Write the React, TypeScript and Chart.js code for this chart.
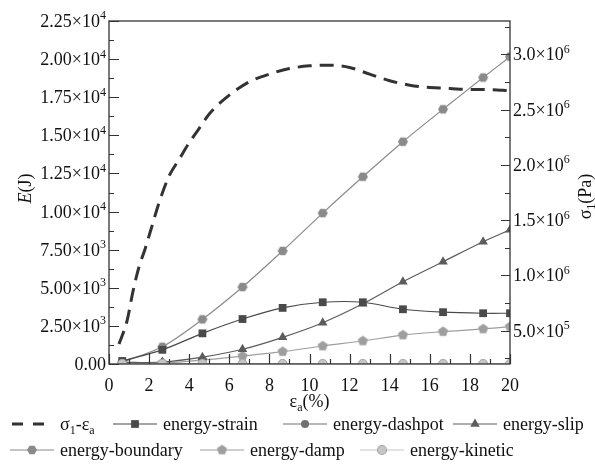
import React, { useEffect, useRef } from 'react';
import { Chart, registerables } from 'chart.js';
import { drawPoint } from 'chart.js/helpers';

Chart.register(...registerables);

// ---------------- data ----------------
const energyStrainPct = [0.66, 2.66, 4.66, 6.66, 8.66, 10.66, 12.66, 14.66, 16.66, 18.66, 20];
const energyStrain = [200, 930, 2010, 2950, 3680, 4050, 4050, 3590, 3400, 3330, 3330];
const energyDashpot = [0, 0, 0, 0, 0, 0, 0, 0, 0, 0, 0];
const energySlip = [100, 130, 450, 965, 1750, 2710, 3950, 5400, 6710, 8020, 8800];
const energyBoundary = [120, 1130, 2930, 5050, 7420, 9900, 12280, 14580, 16710, 18790, 20160];
const energyDamp = [40, 70, 260, 520, 810, 1180, 1510, 1900, 2120, 2300, 2450];
const energyKinetic = [10, 10, 10, 10, 10, 10, 10, 10, 10, 10, 10];

const stressPct = [0.5, 0.9, 1.2, 1.5, 1.8, 2.1, 2.5, 3, 3.5, 4, 4.5, 5, 6, 7, 8, 9, 10, 11, 12, 13, 14, 15, 16, 17, 18, 19, 20];
const stressPa = [380000, 590000, 860000, 1080000, 1240000, 1420000, 1660000, 1900000, 2050000, 2200000, 2330000, 2460000, 2630000, 2750000, 2820000, 2870000, 2895000, 2900000, 2880000, 2820000, 2760000, 2720000, 2700000, 2690000, 2680000, 2680000, 2670000];

const seriesLabels = ['σ_1-ε_a', 'energy-strain', 'energy-dashpot', 'energy-slip', 'energy-boundary', 'energy-damp', 'energy-kinetic'];

const xTickValues = [0, 2, 4, 6, 8, 10, 12, 14, 16, 18, 20];
const xTickLabels = ['0', '2', '4', '6', '8', '10', '12', '14', '16', '18', '20'];
const leftTickValues = [0, 2500, 5000, 7500, 10000, 12500, 15000, 17500, 20000, 22500];
const leftTickLabels = ['0.00', '2.50×10^3', '5.00×10^3', '7.50×10^3', '1.00×10^4', '1.25×10^4', '1.50×10^4', '1.75×10^4', '2.00×10^4', '2.25×10^4'];
const rightTickValues = [500000, 1000000, 1500000, 2000000, 2500000, 3000000];
const rightTickLabels = ['5.0×10^5', '1.0×10^6', '1.5×10^6', '2.0×10^6', '2.5×10^6', '3.0×10^6'];

const xTitle = 'ε_a(%)';
const leftTitle = '~E~(J)';
const rightTitle = 'σ_1(Pa)';

// ---------------- style ----------------
const FAMILY = '"Liberation Serif", "Times New Roman", serif';
const FS = 18;
const AXIS = '#333';

type Seg = { t: string; k: 'n' | 'sup' | 'sub'; it: boolean };
function parseRich(s: string): Seg[] {
  const out: Seg[] = [];
  let it = false;
  let buf = '';
  const flush = () => { if (buf) { out.push({ t: buf, k: 'n', it }); buf = ''; } };
  for (let i = 0; i < s.length; i++) {
    const c = s[i];
    if ((c === '^' || c === '_') && i + 1 < s.length) {
      flush();
      out.push({ t: s[i + 1], k: c === '^' ? 'sup' : 'sub', it });
      i++;
    } else if (c === '~') { flush(); it = !it; }
    else buf += c;
  }
  flush();
  return out;
}
function segFont(seg: Seg, size: number) {
  const sz = seg.k === 'n' ? size : Math.round(size * 0.66);
  return `${seg.it ? 'italic ' : ''}${sz}px ${FAMILY}`;
}
function richWidth(ctx: CanvasRenderingContext2D, segs: Seg[], size: number) {
  let w = 0;
  for (const s of segs) { ctx.font = segFont(s, size); w += ctx.measureText(s.t).width; }
  return w;
}
function drawRich(ctx: CanvasRenderingContext2D, str: string, x: number, y: number, size: number, align: 'left' | 'right' | 'center') {
  const segs = parseRich(str);
  const w = richWidth(ctx, segs, size);
  let cx = align === 'left' ? x : align === 'right' ? x - w : x - w / 2;
  ctx.textAlign = 'left';
  ctx.textBaseline = 'alphabetic';
  for (const s of segs) {
    ctx.font = segFont(s, size);
    const dy = s.k === 'sup' ? -size * 0.42 : s.k === 'sub' ? size * 0.22 : 0;
    ctx.fillText(s.t, cx, y + dy);
    cx += ctx.measureText(s.t).width;
  }
  return w;
}

function polygonMarker(sides: number, r: number, fill: string, rot: number) {
  const size = Math.ceil(2 * r + 2);
  const c = document.createElement('canvas');
  c.width = size; c.height = size;
  const g = c.getContext('2d')!;
  g.beginPath();
  for (let k = 0; k < sides; k++) {
    const a = rot + (k * 2 * Math.PI) / sides;
    const px = size / 2 + r * Math.cos(a);
    const py = size / 2 + r * Math.sin(a);
    if (k === 0) g.moveTo(px, py); else g.lineTo(px, py);
  }
  g.closePath();
  g.fillStyle = fill;
  g.fill();
  return c;
}

const legendSlots = [
  { row: 0, x: 10 }, { row: 0, x: 113 }, { row: 0, x: 283 }, { row: 0, x: 453 },
  { row: 1, x: 10 }, { row: 1, x: 200 }, { row: 1, x: 360 },
];
const legendRowY = [424, 450];
const SAMPLE_W = 44;

const decor = {
  id: 'decor',
  afterDraw(chart: any) {
    const { ctx, chartArea: a, scales } = chart;
    const sx = scales.x, sy = scales.y, sy2 = scales.y2;
    ctx.save();
    // frame
    ctx.strokeStyle = AXIS;
    ctx.lineWidth = 1.3;
    ctx.strokeRect(a.left, a.top, a.right - a.left, a.bottom - a.top);
    ctx.lineWidth = 1.2;
    ctx.beginPath();
    // x ticks (inside)
    for (let v = 0; v <= 20; v += 1) {
      const px = Math.round(sx.getPixelForValue(v)) + 0.5;
      const len = v % 2 === 0 ? 10 : 5;
      ctx.moveTo(px, a.bottom); ctx.lineTo(px, a.bottom - len);
    }
    // left ticks
    for (let v = 0; v <= 22500; v += 1250) {
      const py = Math.round(sy.getPixelForValue(v)) + 0.5;
      const len = v % 2500 === 0 ? 10 : 5;
      ctx.moveTo(a.left, py); ctx.lineTo(a.left + len, py);
    }
    // right ticks
    for (let v = 250000; v <= 3250000; v += 250000) {
      const py = Math.round(sy2.getPixelForValue(v)) + 0.5;
      const len = v % 500000 === 0 ? 9 : 5;
      ctx.moveTo(a.right, py); ctx.lineTo(a.right - len, py);
    }
    ctx.stroke();

    ctx.fillStyle = '#111';
    xTickValues.forEach((v, i) => {
      drawRich(ctx, xTickLabels[i], sx.getPixelForValue(v), 391, FS, 'center');
    });
    leftTickValues.forEach((v, i) => {
      drawRich(ctx, leftTickLabels[i], a.left - 3, sy.getPixelForValue(v) + 6, FS, 'right');
    });
    rightTickValues.forEach((v, i) => {
      drawRich(ctx, rightTickLabels[i], a.right + 3, sy2.getPixelForValue(v) + 6, FS, 'left');
    });

    // axis titles
    drawRich(ctx, xTitle, (a.left + a.right) / 2, 407, FS, 'center');
    ctx.save();
    ctx.translate(25, (a.top + a.bottom) / 2 - 4);
    ctx.rotate(-Math.PI / 2);
    drawRich(ctx, leftTitle, 0, 6, FS, 'center');
    ctx.restore();
    ctx.save();
    ctx.translate(585, (a.top + a.bottom) / 2 + 4);
    ctx.rotate(-Math.PI / 2);
    drawRich(ctx, rightTitle, 0, 6, FS, 'center');
    ctx.restore();

    // legend
    chart.data.datasets.forEach((ds: any, i: number) => {
      const slot = legendSlots[i];
      const y = legendRowY[slot.row];
      const x0 = slot.x;
      ctx.save();
      ctx.strokeStyle = ds.borderColor;
      if (ds.borderDash && ds.borderDash.length) {
        ctx.lineWidth = ds.borderWidth;
        ctx.setLineDash([11, 10]);
        ctx.beginPath();
        ctx.moveTo(x0 + 2, y); ctx.lineTo(x0 + SAMPLE_W - 1, y);
        ctx.stroke();
      } else {
        ctx.lineWidth = 1.2;
        ctx.beginPath();
        ctx.moveTo(x0, y); ctx.lineTo(x0 + SAMPLE_W, y);
        ctx.stroke();
        ctx.fillStyle = ds.pointBackgroundColor;
        ctx.strokeStyle = ds.pointBorderColor;
        drawPoint(ctx, { pointStyle: ds.pointStyle, radius: ds.pointRadius, rotation: 0, borderWidth: ds.pointBorderWidth || 0 }, x0 + SAMPLE_W / 2, y);
      }
      ctx.restore();
      ctx.fillStyle = '#111';
      drawRich(ctx, ds.label, x0 + SAMPLE_W + 6, y + 6, FS, 'left');
    });
    ctx.restore();
  },
};

function xy(xs: number[], ys: number[]) {
  return xs.map((x, i) => ({ x, y: ys[i] }));
}

export default function App() {
  const ref = useRef<HTMLCanvasElement>(null);
  useEffect(() => {
    document.body.style.margin = '0';
    const hex = polygonMarker(6, 5, '#8a8a8a', 0);
    const pent = polygonMarker(5, 5.3, '#9e9e9e', -Math.PI / 2);
    const energyLine = (label: string, data: number[], color: string, style: any, radius: number, order: number, pb?: string) => ({
      label,
      data: xy(energyStrainPct, data),
      yAxisID: 'y',
      borderColor: color,
      borderWidth: 1.2,
      pointStyle: style,
      pointRadius: radius,
      pointBackgroundColor: color,
      pointBorderColor: pb || color,
      pointBorderWidth: pb ? 1 : 0,
      tension: 0.3,
      fill: false,
      order,
    });
    const chart = new Chart(ref.current!, {
      type: 'line',
      data: {
        datasets: [
          {
            label: seriesLabels[0],
            data: xy(stressPct, stressPa),
            yAxisID: 'y2',
            borderColor: '#333333',
            borderWidth: 3,
            borderDash: [14, 8],
            pointRadius: 0,
            cubicInterpolationMode: 'monotone',
            fill: false,
            order: 0,
          } as any,
          energyLine(seriesLabels[1], energyStrain, '#4a4a4a', 'rect', 5.5, 2),
          energyLine(seriesLabels[2], energyDashpot, '#707070', 'circle', 4, 3),
          energyLine(seriesLabels[3], energySlip, '#5c5c5c', 'triangle', 5.5, 2),
          energyLine(seriesLabels[4], energyBoundary, '#8a8a8a', hex, 5, 2),
          energyLine(seriesLabels[5], energyDamp, '#9e9e9e', pent, 5, 2),
          energyLine(seriesLabels[6], energyKinetic, '#c6c6c6', 'circle', 4.5, 1, '#a8a8a8'),
        ],
      },
      options: {
        responsive: false,
        animation: false,
        layout: { padding: { top: 21, left: 0, right: 0, bottom: 0 } },
        plugins: { legend: { display: false }, tooltip: { enabled: false } },
        scales: {
          x: {
            type: 'linear', min: 0, max: 20,
            ticks: { display: false }, grid: { display: false }, border: { display: false },
            afterFit: (s: any) => { s.height = 100; },
          },
          y: {
            type: 'linear', position: 'left', min: 0, max: 22500,
            ticks: { display: false }, grid: { display: false }, border: { display: false },
            afterFit: (s: any) => { s.width = 109; },
          },
          y2: {
            type: 'linear', position: 'right', min: 200000, max: 3300000,
            ticks: { display: false }, grid: { display: false }, border: { display: false },
            afterFit: (s: any) => { s.width = 85; },
          },
        },
      } as any,
      plugins: [decor],
    });
    return () => chart.destroy();
  }, []);
  return <canvas ref={ref} width={595} height={464} style={{ display: 'block' }} />;
}
